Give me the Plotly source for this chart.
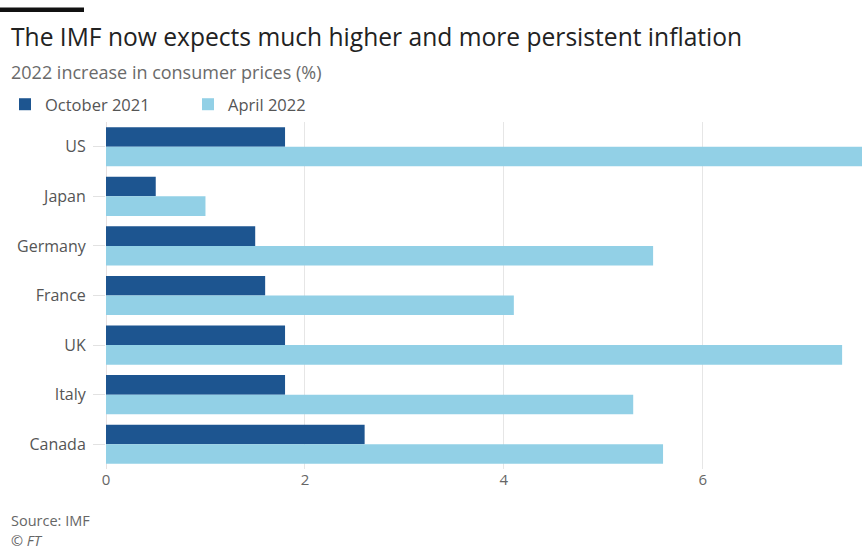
import plotly.graph_objects as go

countries = ["US", "Japan", "Germany", "France", "UK", "Italy", "Canada"]
oct_2021 = [1.8, 0.5, 1.5, 1.6, 1.8, 1.8, 2.6]
apr_2022 = [7.7, 1.0, 5.5, 4.1, 7.4, 5.3, 5.6]
x_ticks = [0, 2, 4, 6]

DARK = "#1d5590"
LIGHT = "#92d0e6"
FONT = "Open Sans"

fig = go.Figure()
fig.add_trace(go.Bar(y=countries, x=oct_2021, orientation="h", name="October 2021",
                     marker=dict(color=DARK, line=dict(width=0))))
fig.add_trace(go.Bar(y=countries, x=apr_2022, orientation="h", name="April 2022",
                     marker=dict(color=LIGHT, line=dict(width=0))))

fig.update_layout(
    width=862, height=549,
    margin=dict(l=106, r=0, t=122, b=80, autoexpand=False),
    paper_bgcolor="white", plot_bgcolor="white",
    barmode="group", bargap=0.21, bargroupgap=0,
    font=dict(family=FONT, color="#666666", size=14),
    showlegend=True,
    legend=dict(orientation="h", x=-101/756, xref="paper", y=1 - 87/549, yref="container",
                xanchor="left", yanchor="top", entrywidth=138,
                font=dict(size=16.5, color="#555555"), bgcolor="rgba(0,0,0,0)"),
    xaxis=dict(range=[0, 7.6], tickvals=x_ticks, showgrid=True, gridcolor="#e6e6e6",
               gridwidth=1, zeroline=True, zerolinecolor="#e6e0e0", zerolinewidth=1,
               showline=False, ticks="", tickfont=dict(size=15, color="#666666"),
               fixedrange=True),
    yaxis=dict(autorange="reversed", showgrid=False, ticks="outside", ticklen=12,
               tickcolor="#e2e2e2", tickwidth=1, ticklabelstandoff=4,
               tickfont=dict(size=16, color="#555555"), showline=False),
)

fig.add_shape(type="rect", xref="paper", yref="paper", x0=-106/756, x1=-22/756,
              y0=1 + (122 - 12) / 347, y1=1 + (122 - 7.5) / 347,
              fillcolor="#111111", line=dict(width=0))

fig.add_annotation(text="The IMF now expects much higher and more persistent inflation",
                   xref="paper", yref="paper", x=-97/756, y=1 + (122 - 37) / 347,
                   xanchor="left", yanchor="middle", showarrow=False,
                   font=dict(family=FONT, size=24.6, color="#222222"))
fig.add_annotation(text="2022 increase in consumer prices (%)",
                   xref="paper", yref="paper", x=-97/756, y=1 + (122 - 72) / 347,
                   xanchor="left", yanchor="middle", showarrow=False,
                   font=dict(family=FONT, size=18, color="#6a6a6a"))
fig.add_annotation(text="Source: IMF",
                   xref="paper", yref="paper", x=-97/756, y=-(520 - 469) / 347,
                   xanchor="left", yanchor="middle", showarrow=False,
                   font=dict(family=FONT, size=14.5, color="#666666"))
fig.add_annotation(text="<i>© FT</i>",
                   xref="paper", yref="paper", x=-97/756, y=-(540 - 469) / 347,
                   xanchor="left", yanchor="middle", showarrow=False,
                   font=dict(family=FONT, size=14.5, color="#666666"))

fig.write_html("out.html")
